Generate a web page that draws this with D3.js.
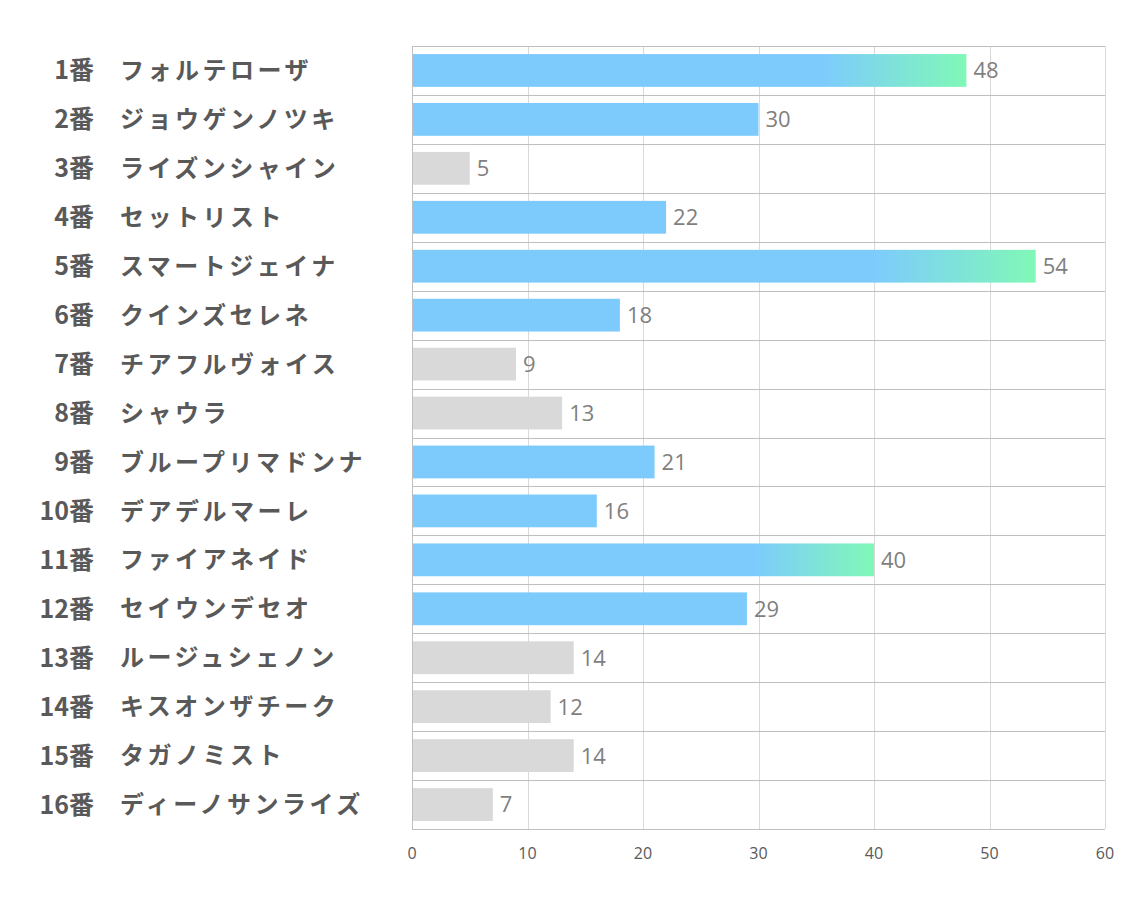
<!DOCTYPE html>
<html><head><meta charset="utf-8">
<script src="https://cdn.jsdelivr.net/npm/d3@7"></script>
<style>body{margin:0;background:#fff;} svg{display:block;}</style>
</head><body>
<svg id="c" width="1134" height="907"></svg>
<script>
const numbers = ["1番","2番","3番","4番","5番","6番","7番","8番","9番","10番","11番","12番","13番","14番","15番","16番"];
const names = ["フォルテローザ","ジョウゲンノツキ","ライズンシャイン","セットリスト","スマートジェイナ","クインズセレネ","チアフルヴォイス","シャウラ","ブループリマドンナ","デアデルマーレ","ファイアネイド","セイウンデセオ","ルージュシェノン","キスオンザチーク","タガノミスト","ディーノサンライズ"];
const values = [48,30,5,22,54,18,9,13,21,16,40,29,14,12,14,7];
const kinds = ["grad","blue","gray","blue","grad","blue","gray","gray","blue","blue","grad","blue","gray","gray","gray","gray"];
const xTicks = [0,10,20,30,40,50,60];

(function(){
const svg = d3.select("#c");
const pL = 412, pR = 1105, pT = 46, pB = 829;
const x = d3.scaleLinear().domain([0,60]).range([pL,pR]);
const y = d3.scaleBand().domain(d3.range(values.length)).range([pT,pB]).paddingInner(0.33).paddingOuter(0.165);

const defs = svg.append("defs");
const g = defs.append("linearGradient").attr("id","gr").attr("x1","0").attr("x2","1").attr("y1","0").attr("y2","0");
g.append("stop").attr("offset","0.74").attr("stop-color","#7dcbfd");
g.append("stop").attr("offset","1").attr("stop-color","#80f8b7");

// vertical grid
svg.append("g").selectAll("line").data(xTicks.slice(1)).join("line")
  .attr("x1",d=>Math.round(x(d))+0.5).attr("x2",d=>Math.round(x(d))+0.5).attr("y1",pT).attr("y2",pB)
  .attr("stroke","#d9d9d9").attr("stroke-width",1);

// horizontal separators
const rowStep = (pB-pT)/values.length;
svg.append("g").selectAll("line").data(d3.range(values.length+1)).join("line")
  .attr("x1",pL).attr("x2",pR)
  .attr("y1",d=>Math.round(pT+d*rowStep)+0.5).attr("y2",d=>Math.round(pT+d*rowStep)+0.5)
  .attr("stroke","#bfbfbf").attr("stroke-width",1);

// left axis line
svg.append("line").attr("x1",pL+0.5).attr("x2",pL+0.5).attr("y1",pT).attr("y2",pB)
  .attr("stroke","#bfbfbf");

// bars
const colorFor = k => k==="gray" ? "#d9d9d9" : (k==="blue" ? "#7dcbfd" : "url(#gr)");
svg.append("g").selectAll("rect").data(values).join("rect")
  .attr("x",x(0)+1).attr("y",(d,i)=>y(i))
  .attr("width",d=>x(d)-x(0)-1).attr("height",y.bandwidth())
  .attr("fill",(d,i)=>colorFor(kinds[i]));

// value labels
svg.append("g").selectAll("text").data(values).join("text")
  .attr("x",d=>x(d)+7).attr("y",(d,i)=>y(i)+y.bandwidth()/2)
  .attr("dy","0.36em")
  .attr("font-family","'Open Sans','Noto Sans',sans-serif").attr("font-size",22)
  .attr("fill","#7f7f7f").text(d=>d);

// category labels
const lab = svg.append("g").attr("font-family","'Noto Sans CJK JP',sans-serif").attr("font-weight","bold")
  .attr("fill","#595959");
lab.selectAll("text.n").data(numbers).join("text").attr("class","n")
  .attr("x",94).attr("y",(d,i)=>y(i)+y.bandwidth()/2).attr("dy","0.36em")
  .attr("font-size",25).attr("text-anchor","end").text(d=>d);
lab.selectAll("text.m").data(names).join("text").attr("class","m")
  .attr("x",120).attr("y",(d,i)=>y(i)+y.bandwidth()/2).attr("dy","0.36em")
  .attr("font-size",24).attr("letter-spacing","3.5px").text(d=>d);

// x tick labels
svg.append("g").selectAll("text").data(xTicks).join("text")
  .attr("x",d=>x(d)).attr("y",859).attr("text-anchor","middle")
  .attr("font-family","'Liberation Sans Narrow','Open Sans',sans-serif").attr("font-size",16)
  .attr("fill","#595959").text(d=>d);
})();
</script>
</body></html>
